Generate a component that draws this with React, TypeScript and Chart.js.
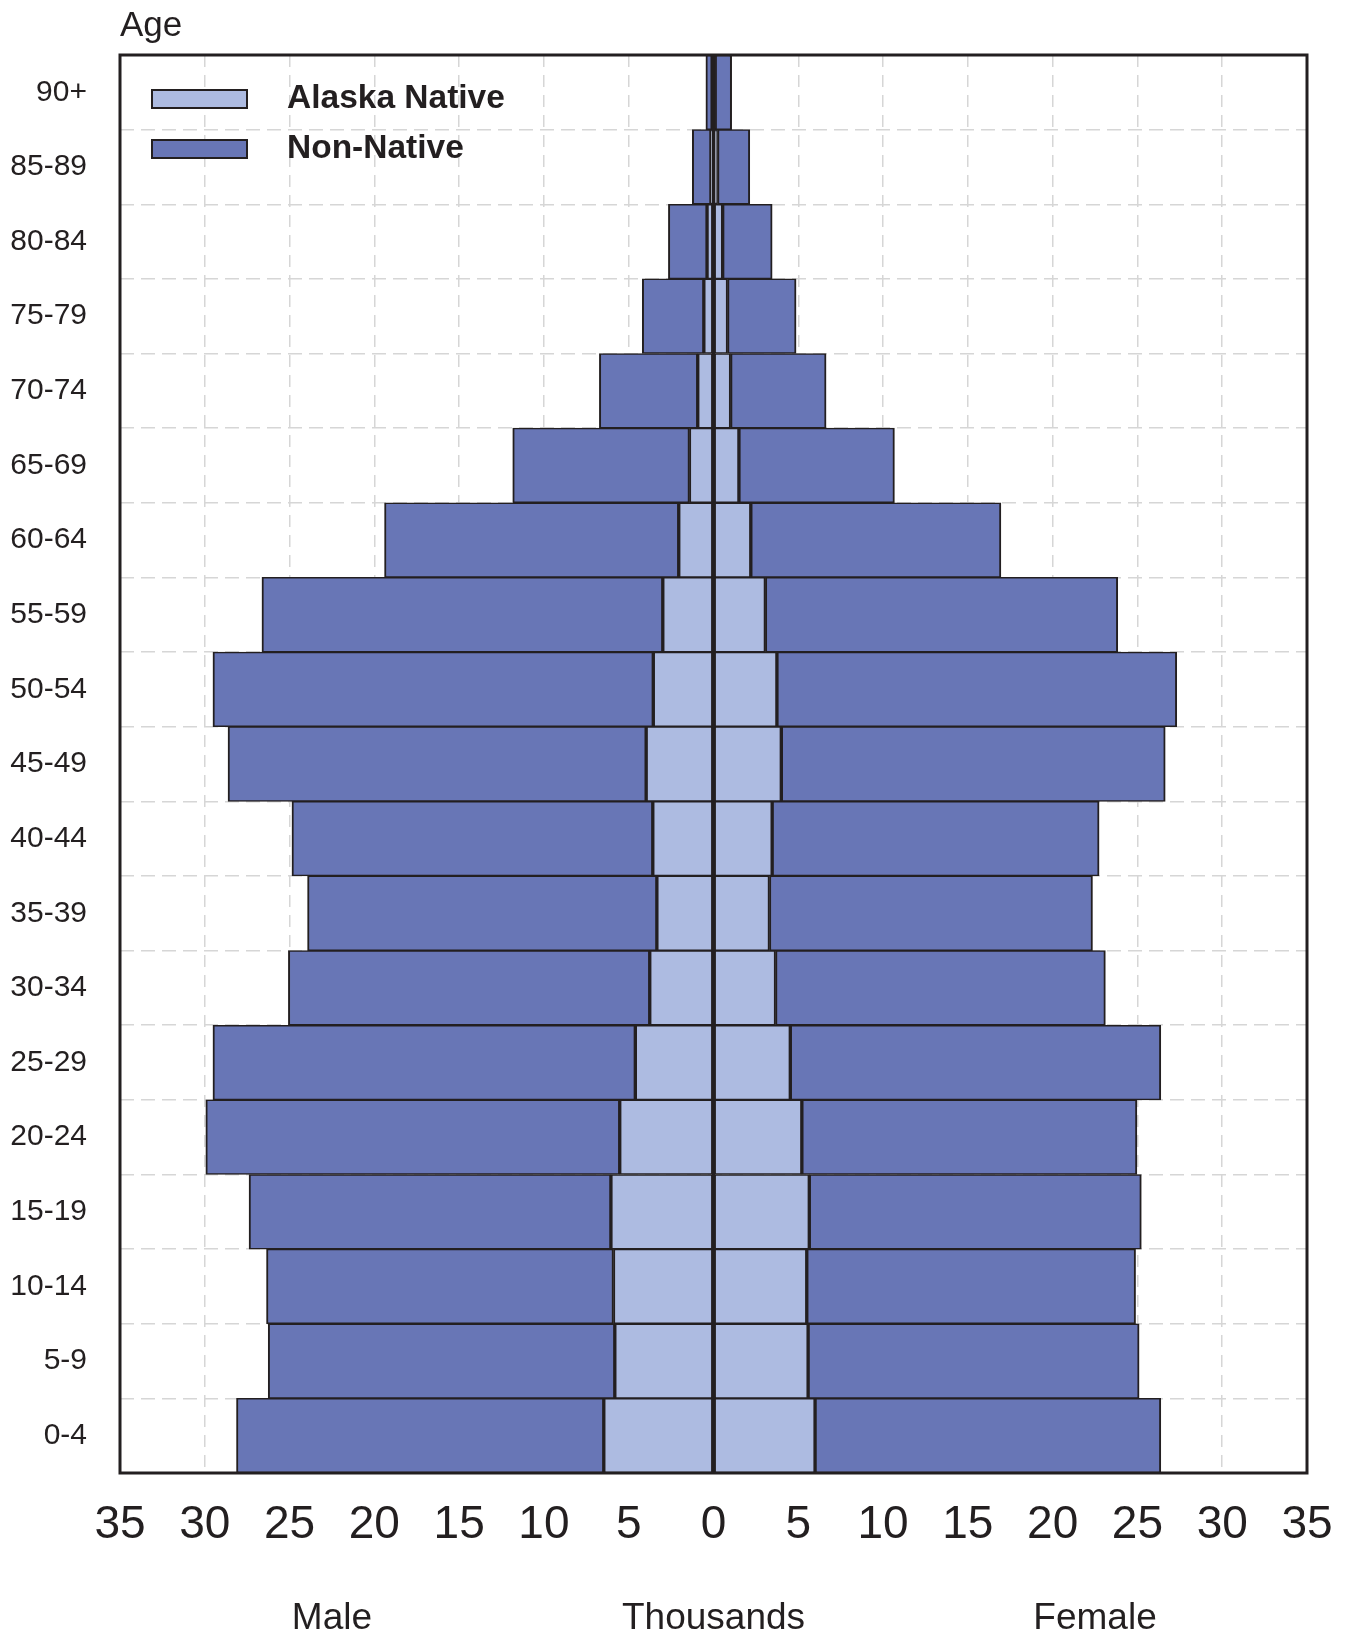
import React, { useEffect, useRef } from 'react';
import { Chart, registerables } from 'chart.js';

Chart.register(...registerables);

// Age groups, bottom (youngest) to top (oldest)
const ageGroups = ['0-4', '5-9', '10-14', '15-19', '20-24', '25-29', '30-34', '35-39', '40-44', '45-49', '50-54', '55-59', '60-64', '65-69', '70-74', '75-79', '80-84', '85-89', '90+'];

// Thousands of people
const maleNative = [6.47, 5.82, 5.9, 6.05, 5.53, 4.61, 3.76, 3.34, 3.58, 3.97, 3.55, 2.99, 2.05, 1.42, 0.93, 0.57, 0.38, 0.15, 0.08];
const maleNonNative = [21.66, 20.44, 20.46, 21.34, 24.41, 24.91, 21.31, 20.6, 21.28, 24.66, 25.97, 23.64, 17.35, 10.42, 5.8, 3.63, 2.28, 1.1, 0.37];
const femaleNative = [5.99, 5.58, 5.5, 5.65, 5.21, 4.53, 3.66, 3.3, 3.46, 4.0, 3.74, 3.06, 2.2, 1.5, 1.01, 0.83, 0.54, 0.24, 0.1];
const femaleNonNative = [20.39, 19.52, 19.39, 19.58, 19.76, 21.85, 19.45, 19.05, 19.28, 22.64, 23.58, 20.78, 14.75, 9.17, 5.63, 4.04, 2.92, 1.9, 0.97];

const seriesNames = ['Alaska Native', 'Non-Native'];
const bottomLabels = [
  { text: 'Male', value: -22.5 },
  { text: 'Thousands', value: 0 },
  { text: 'Female', value: 22.5 },
];

const LIGHT = '#adbbe1';
const DARK = '#6876b6';
const INK = '#231f20';
const GRID = '#d6d6d6';
const FONT = '"Liberation Sans", Arial, Helvetica, sans-serif';

const decorPlugin = {
  id: 'decor',
  afterDatasetsDraw(chart: any) {
    const { ctx, chartArea: a, scales } = chart;
    ctx.save();
    // zero line
    const x0 = scales.x.getPixelForValue(0);
    ctx.strokeStyle = INK;
    ctx.lineWidth = 3;
    ctx.beginPath();
    ctx.moveTo(x0, a.top);
    ctx.lineTo(x0, a.bottom);
    ctx.stroke();
    ctx.restore();
  },
  afterDraw(chart: any) {
    const { ctx, chartArea: a, scales } = chart;
    ctx.save();
    // frame
    ctx.strokeStyle = INK;
    ctx.lineWidth = 3;
    ctx.strokeRect(a.left, a.top, a.right - a.left, a.bottom - a.top);

    ctx.fillStyle = INK;
    // Age title
    ctx.font = `35px ${FONT}`;
    ctx.textAlign = 'left';
    ctx.textBaseline = 'alphabetic';
    ctx.fillText('Age', a.left, 36);

    // bottom labels
    ctx.font = `37px ${FONT}`;
    ctx.textAlign = 'center';
    for (const l of bottomLabels) {
      ctx.fillText(l.text, scales.x.getPixelForValue(l.value), 1629);
    }

    // legend
    const colors = [LIGHT, DARK];
    const boxX = a.left + 32;
    const boxW = 95;
    const boxH = 18;
    const centers = [a.top + 44, a.top + 94];
    ctx.font = `bold 33.5px ${FONT}`;
    ctx.textAlign = 'left';
    ctx.textBaseline = 'middle';
    seriesNames.forEach((name, i) => {
      const cy = centers[i];
      ctx.fillStyle = colors[i];
      ctx.fillRect(boxX, cy - boxH / 2, boxW, boxH);
      ctx.strokeStyle = INK;
      ctx.lineWidth = 2;
      ctx.strokeRect(boxX, cy - boxH / 2, boxW, boxH);
      ctx.fillStyle = INK;
      ctx.fillText(name, a.left + 167, cy);
    });
    ctx.restore();
  },
};

export default function App() {
  const ref = useRef<HTMLCanvasElement>(null);

  useEffect(() => {
    document.body.style.margin = '0';
    const canvas = ref.current;
    if (!canvas) return;
    const border = { top: 1.5, bottom: 1.5, left: 2, right: 2 };
    const common = {
      borderColor: INK,
      borderWidth: border,
      borderSkipped: false,
      categoryPercentage: 1.0,
      barPercentage: 1.0,
      stack: 'pop',
    };
    const chart = new Chart(canvas, {
      type: 'bar',
      data: {
        labels: ageGroups,
        datasets: [
          { ...common, label: 'Alaska Native (Male)', data: maleNative.map((v) => -v), backgroundColor: LIGHT },
          { ...common, label: 'Non-Native (Male)', data: maleNonNative.map((v) => -v), backgroundColor: DARK },
          { ...common, label: 'Alaska Native (Female)', data: femaleNative, backgroundColor: LIGHT },
          { ...common, label: 'Non-Native (Female)', data: femaleNonNative, backgroundColor: DARK },
        ] as any,
      },
      options: {
        indexAxis: 'y',
        responsive: false,
        animation: false,
        devicePixelRatio: 1,
        layout: { padding: { top: 55, right: 40, left: 0, bottom: 0 } },
        plugins: {
          legend: { display: false },
          tooltip: { enabled: false },
        },
        scales: {
          x: {
            type: 'linear',
            stacked: true,
            min: -35,
            max: 35,
            ticks: {
              stepSize: 5,
              color: INK,
              font: { family: FONT, size: 46 },
              padding: 25,
              maxRotation: 0,
              callback: (v: any) => String(Math.abs(Number(v))),
            },
            grid: { color: GRID, lineWidth: 1.5, drawTicks: false },
            border: { display: false, dash: [12, 8] },
            afterFit: (s: any) => {
              s.height = 163;
              s.paddingLeft = 0;
              s.paddingRight = 0;
            },
          },
          y: {
            type: 'category',
            stacked: true,
            reverse: true,
            ticks: {
              color: INK,
              font: { family: FONT, size: 30 },
              padding: 33,
              autoSkip: false,
            },
            grid: { color: GRID, lineWidth: 1.5, drawTicks: false, offset: true },
            border: { display: false, dash: [14, 7] },
            afterFit: (s: any) => {
              s.width = 120;
              s.paddingTop = 0;
              s.paddingBottom = 0;
            },
          },
        },
      } as any,
      plugins: [decorPlugin],
    });
    return () => chart.destroy();
  }, []);

  return (
    <div style={{ width: 1347, height: 1636, position: 'relative' }}>
      <canvas ref={ref} width={1347} height={1636} style={{ display: 'block' }} />
    </div>
  );
}
